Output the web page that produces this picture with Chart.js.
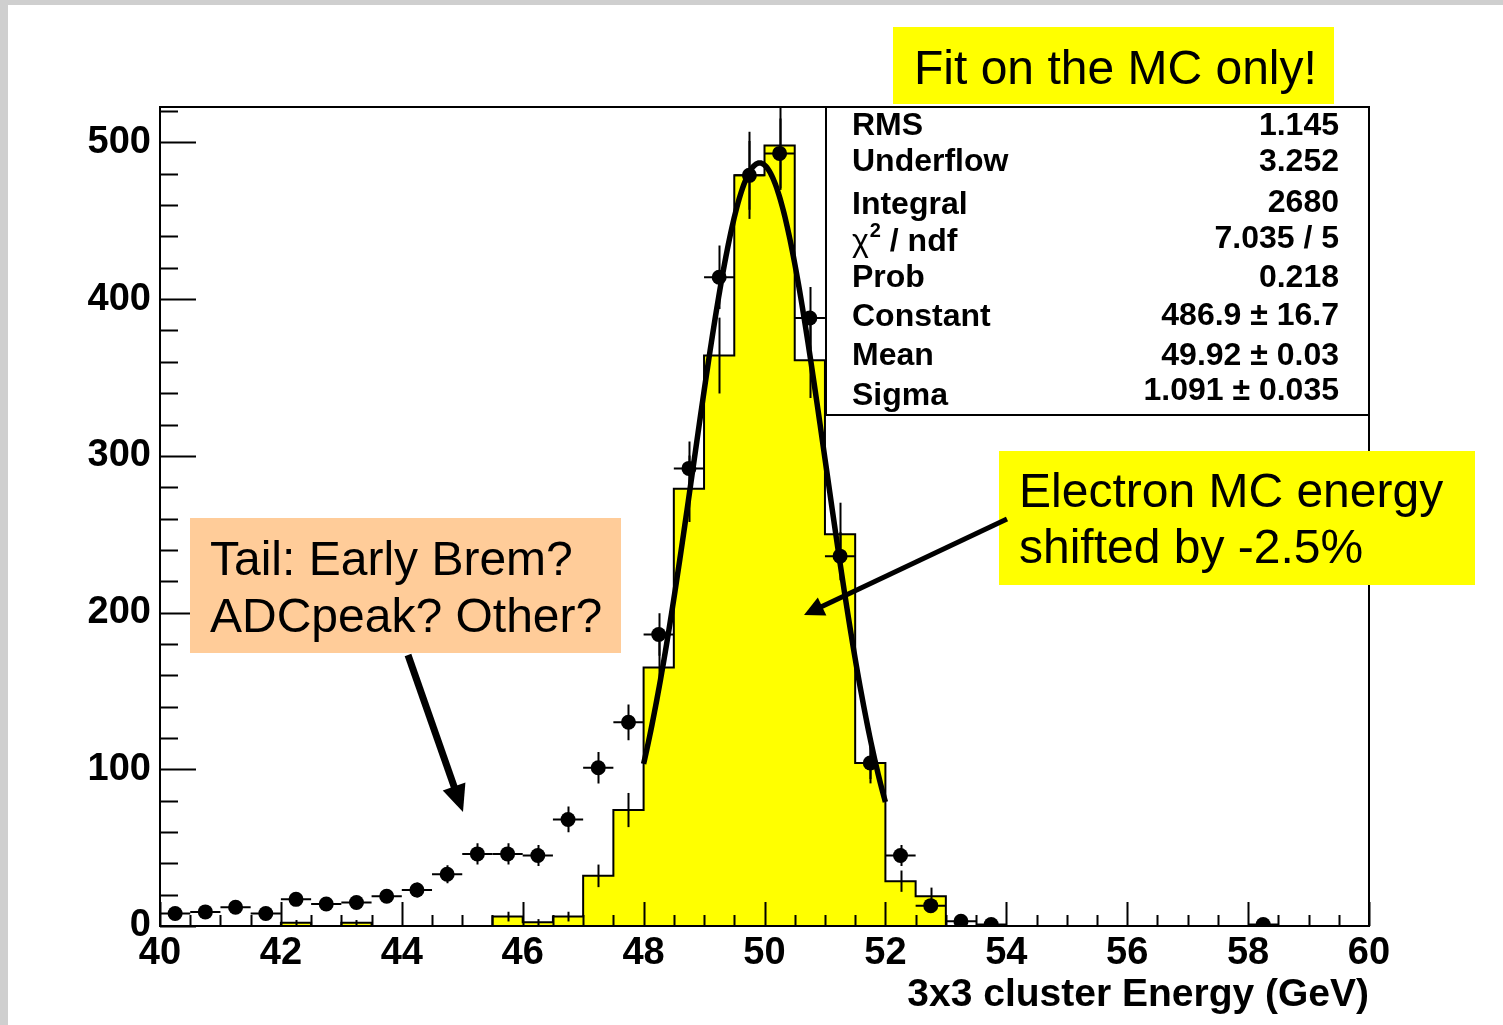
<!DOCTYPE html>
<html>
<head>
<meta charset="utf-8">
<title>3x3 cluster Energy</title>
<script src="https://cdn.jsdelivr.net/npm/chart.js@4.4.1/dist/chart.umd.min.js"></script>
<style>
  html, body { margin: 0; padding: 0; background: #ffffff; }
  canvas { display: block; }
</style>
</head>
<body>
<canvas id="chart" width="1503" height="1025"></canvas>
<script>
// ---- Histogram binning (0.5 GeV bins from 40 to 60 GeV) ----
const binEdges = [40, 40.5, 41, 41.5, 42, 42.5, 43, 43.5, 44, 44.5,
                  45, 45.5, 46, 46.5, 47, 47.5, 48, 48.5, 49, 49.5,
                  50, 50.5, 51, 51.5, 52, 52.5, 53, 53.5, 54, 54.5,
                  55, 55.5, 56, 56.5, 57, 57.5, 58, 58.5, 59, 59.5, 60];

// ---- Data: entries per bin (null = empty bin) and their errors ----
const dataCounts = [8, 9, 12, 8, 17, 14, 15, 19, 23, 33,
                    46, 46, 45, 68, 101, 130, 186, 292, 414, 479,
                    493, 388, 236, 104, 45, 13, 3, 1, null, null,
                    null, null, null, null, null, null, 1, null, null, null];
const dataErrors = [2.8, 3.0, 3.5, 2.8, 4.1, 3.7, 3.9, 4.4, 4.8, 5.7,
                    6.8, 6.8, 6.7, 8.2, 10.0, 11.4, 13.6, 17.1, 20.3, 21.9,
                    22.2, 19.7, 15.4, 10.2, 6.7, 3.6, 1.7, 1.0, 0, 0,
                    0, 0, 0, 0, 0, 0, 1.0, 0, 0, 0];

// ---- Electron MC (energy shifted by -2.5%), weighted entries and errors ----
const mcCounts = [0, 0, 0, 0, 2, 0, 2, 0, 0, 0,
                  0, 6, 2.4, 6, 32, 74, 165, 279, 364, 479,
                  498, 361, 250, 104, 28.6, 19, 0, 0, 0, 0,
                  0, 0, 0, 0, 0, 0, 0, 0, 0, 0];
const mcErrors = [0, 0, 0, 0, 1.8, 0, 1.8, 0, 0, 0,
                  0, 3.1, 2.0, 3.1, 7.2, 10.9, 16.3, 21.2, 24.2, 27.8,
                  28.3, 24.1, 20.1, 13.0, 6.8, 5.5, 0, 0, 0, 0,
                  0, 0, 0, 0, 0, 0, 0, 0, 0, 0];

// ---- Gaussian fit to the MC ----
const fitConstant = 486.9;
const fitMean = 49.92;
const fitSigma = 1.091;
const fitRange = [48, 52];

// ---- Axis tick labels ----
const xTickLabels = [40, 42, 44, 46, 48, 50, 52, 54, 56, 58, 60];
const yTickLabels = [0, 100, 200, 300, 400, 500];
const yAxisMax = 522.6;

// ---- Statistics box ----
const statsLabels = ['RMS', 'Underflow', 'Integral', 'CHI2', 'Prob', 'Constant', 'Mean', 'Sigma'];
const statsValues = ['1.145', '3.252', '2680', '7.035 / 5', '0.218',
                     fitConstant.toFixed(1) + ' \u00B1 16.7',
                     fitMean.toFixed(2) + ' \u00B1 0.03',
                     fitSigma.toFixed(3) + ' \u00B1 0.035'];

const FONT = '"Liberation Sans", Arial, Helvetica, sans-serif';

// Derived datasets
const binCenters = binEdges.slice(0, -1).map((e, i) => (e + binEdges[i + 1]) / 2);
const mcStepPoints = binEdges.map((e, i) => ({ x: e, y: i < mcCounts.length ? mcCounts[i] : 0 }));
const dataPoints = [];
binCenters.forEach((c, i) => { if (dataCounts[i] !== null) dataPoints.push({ x: c, y: dataCounts[i], err: dataErrors[i] }); });
const fitPoints = [];
for (let k = 0; k <= 200; k++) {
  const x = fitRange[0] + (fitRange[1] - fitRange[0]) * k / 200;
  const z = (x - fitMean) / fitSigma;
  fitPoints.push({ x: x, y: fitConstant * Math.exp(-0.5 * z * z) });
}

// Page background with the grey margin at the top and left
const backgroundPlugin = {
  id: 'pageBackground',
  beforeDraw(chart) {
    const ctx = chart.ctx;
    ctx.save();
    ctx.fillStyle = '#cfcfcf';
    ctx.fillRect(0, 0, chart.width, chart.height);
    ctx.fillStyle = '#ffffff';
    ctx.fillRect(8, 5, chart.width - 8, chart.height - 5);
    ctx.restore();
  }
};

// Error bars: MC error bars right after the MC histogram, data error bars before the markers
const errorBarPlugin = {
  id: 'errorBars',
  afterDatasetDraw(chart, args) {
    if (args.index !== 2) return;
    const { ctx, chartArea, scales: { x, y } } = chart;
    ctx.save();
    ctx.beginPath();
    ctx.rect(chartArea.left, chartArea.top, chartArea.right - chartArea.left, chartArea.bottom - chartArea.top);
    ctx.clip();
    ctx.strokeStyle = '#000';
    ctx.lineWidth = 2;
    binCenters.forEach((c, i) => {
      if (!mcCounts[i] || !mcErrors[i]) return;
      const px = Math.round(x.getPixelForValue(c)) + 0.5;
      ctx.beginPath();
      ctx.moveTo(px, y.getPixelForValue(mcCounts[i] - mcErrors[i]));
      ctx.lineTo(px, y.getPixelForValue(mcCounts[i] + mcErrors[i]));
      ctx.stroke();
    });
    ctx.restore();
  },
  beforeDatasetDraw(chart, args) {
    if (args.index !== 0) return;
    const { ctx, chartArea, scales: { x, y } } = chart;
    ctx.save();
    ctx.beginPath();
    ctx.rect(chartArea.left, chartArea.top, chartArea.right - chartArea.left, chartArea.bottom - chartArea.top);
    ctx.clip();
    ctx.strokeStyle = '#000';
    ctx.lineWidth = 2;
    dataPoints.forEach(p => {
      const px = Math.round(x.getPixelForValue(p.x)) + 0.5;
      const py = y.getPixelForValue(p.y);
      ctx.beginPath();
      ctx.moveTo(x.getPixelForValue(p.x - 0.25), py);
      ctx.lineTo(x.getPixelForValue(p.x + 0.25), py);
      ctx.moveTo(px, y.getPixelForValue(p.y - p.err));
      ctx.lineTo(px, y.getPixelForValue(p.y + p.err));
      ctx.stroke();
    });
    ctx.restore();
  }
};

// Frame and inward tick marks
const framePlugin = {
  id: 'frameTicks',
  afterDatasetsDraw(chart) {
    const { ctx, chartArea: a, scales: { x, y } } = chart;
    ctx.save();
    ctx.strokeStyle = '#000';
    ctx.lineWidth = 2;
    ctx.beginPath();
    // x ticks: major every 2 GeV, minor every 0.5 GeV
    for (let v = x.min; v <= x.max + 1e-9; v += 0.5) {
      const px = Math.round(x.getPixelForValue(v)) + 0.5;
      const major = xTickLabels.indexOf(Math.round(v * 10) / 10) >= 0;
      ctx.moveTo(px, a.bottom);
      ctx.lineTo(px, a.bottom - (major ? 24 : 11));
    }
    // y ticks: major every 100, minor every 20
    for (let v = 0; v <= y.max; v += 20) {
      const py = Math.round(y.getPixelForValue(v)) + 0.5;
      const major = yTickLabels.indexOf(v) >= 0;
      ctx.moveTo(a.left, py);
      ctx.lineTo(a.left + (major ? 36 : 18), py);
    }
    ctx.stroke();
    ctx.lineWidth = 2;
    ctx.strokeRect(a.left, a.top, a.right - a.left, a.bottom - a.top);
    ctx.restore();
  }
};

function drawArrow(ctx, x0, y0, x1, y1, width, headLen, headHalf) {
  const dx = x1 - x0, dy = y1 - y0;
  const len = Math.sqrt(dx * dx + dy * dy);
  const ux = dx / len, uy = dy / len;
  const bx = x1 - ux * headLen, by = y1 - uy * headLen;
  ctx.save();
  ctx.strokeStyle = '#000';
  ctx.fillStyle = '#000';
  ctx.lineWidth = width;
  ctx.lineCap = 'butt';
  ctx.beginPath();
  ctx.moveTo(x0, y0);
  ctx.lineTo(bx + ux * 2, by + uy * 2);
  ctx.stroke();
  ctx.beginPath();
  ctx.moveTo(x1, y1);
  ctx.lineTo(bx - uy * headHalf, by + ux * headHalf);
  ctx.lineTo(bx + uy * headHalf, by - ux * headHalf);
  ctx.closePath();
  ctx.fill();
  ctx.restore();
}

// Statistics box and slide annotations
const annotationPlugin = {
  id: 'annotations',
  afterDraw(chart) {
    const ctx = chart.ctx;
    const a = chart.chartArea;
    ctx.save();

    // Stats box
    const bx = 826, by = a.top, bw = a.right - 826, bh = 308;
    ctx.fillStyle = '#fff';
    ctx.fillRect(bx, by, bw, bh);
    ctx.strokeStyle = '#000';
    ctx.lineWidth = 2;
    ctx.strokeRect(bx, by, bw, bh);
    const labelBase = [135, 171, 214, 251, 287, 326, 365, 405];
    const valueBase = [135, 171, 212, 248, 287, 325, 365, 400];
    ctx.fillStyle = '#000';
    ctx.textBaseline = 'alphabetic';
    statsLabels.forEach((lab, i) => {
      ctx.textAlign = 'left';
      if (lab === 'CHI2') {
        ctx.font = '32px ' + FONT;
        ctx.fillText('\u03C7', 852, labelBase[i]);
        let w = ctx.measureText('\u03C7').width;
        ctx.font = 'bold 20px ' + FONT;
        ctx.fillText('2', 852 + w + 1, labelBase[i] - 14);
        w += ctx.measureText('2').width + 1;
        ctx.font = 'bold 32px ' + FONT;
        ctx.fillText(' / ndf', 852 + w, labelBase[i]);
      } else {
        ctx.font = 'bold 32px ' + FONT;
        ctx.fillText(lab, 852, labelBase[i]);
      }
      ctx.font = 'bold 32px ' + FONT;
      ctx.textAlign = 'right';
      ctx.fillText(statsValues[i], 1339, valueBase[i]);
    });

    // "Fit on the MC only!" label
    ctx.fillStyle = '#ffff00';
    ctx.fillRect(893, 27, 441, 77);
    ctx.fillStyle = '#000';
    ctx.textAlign = 'left';
    ctx.font = '48px ' + FONT;
    ctx.fillText('Fit on the MC only!', 914, 84);

    // Tail question box
    ctx.fillStyle = '#ffcc99';
    ctx.fillRect(190, 518, 431, 135);
    ctx.fillStyle = '#000';
    ctx.font = '48px ' + FONT;
    ctx.fillText('Tail: Early Brem?', 210, 575);
    ctx.fillText('ADCpeak? Other?', 210, 632);

    // Electron MC shift box
    ctx.fillStyle = '#ffff00';
    ctx.fillRect(999, 451, 476, 134);
    ctx.fillStyle = '#000';
    ctx.font = '48px ' + FONT;
    ctx.fillText('Electron MC energy', 1019, 507);
    ctx.fillText('shifted by -2.5%', 1019, 563);

    ctx.restore();

    drawArrow(ctx, 408, 655, 463, 812, 7, 27, 12);
    drawArrow(ctx, 1007, 519, 804, 615, 5, 20, 10);
  }
};

const tickFont = { family: FONT, size: 38, weight: 'bold' };
const titleFont = { family: FONT, size: 39, weight: 'bold' };

new Chart(document.getElementById('chart'), {
  type: 'line',
  data: {
    datasets: [
      {
        label: 'Data',
        data: dataPoints,
        showLine: false,
        pointRadius: 7.5,
        pointHoverRadius: 7.5,
        pointBackgroundColor: '#000',
        pointBorderWidth: 0,
        order: 0
      },
      {
        label: 'Gaussian fit',
        data: fitPoints,
        borderColor: '#000',
        borderWidth: 5.5,
        pointRadius: 0,
        tension: 0,
        fill: false,
        order: 1
      },
      {
        label: 'Electron MC',
        data: mcStepPoints,
        stepped: true,
        borderColor: '#000',
        borderWidth: 2,
        backgroundColor: '#ffff00',
        fill: 'origin',
        pointRadius: 0,
        tension: 0,
        order: 2
      }
    ]
  },
  options: {
    responsive: false,
    animation: false,
    devicePixelRatio: 1,
    events: [],
    layout: { padding: { top: 107, right: 134, left: 0, bottom: 0 } },
    plugins: { legend: { display: false }, tooltip: { enabled: false } },
    scales: {
      x: {
        type: 'linear',
        min: 40,
        max: 60,
        afterBuildTicks: s => { s.ticks = xTickLabels.map(v => ({ value: v })); },
        afterFit: s => { s.height = 99; },
        ticks: { font: tickFont, color: '#000', padding: 5, maxRotation: 0, autoSkip: false },
        grid: { display: false, drawTicks: false },
        border: { display: false },
        title: {
          display: true,
          text: '3x3 cluster Energy (GeV)',
          align: 'end',
          color: '#000',
          font: titleFont,
          padding: { top: 0, bottom: 6 }
        }
      },
      y: {
        type: 'linear',
        min: 0,
        max: yAxisMax,
        afterBuildTicks: s => { s.ticks = yTickLabels.map(v => ({ value: v })); },
        afterFit: s => { s.width = 160; },
        ticks: { font: tickFont, color: '#000', padding: 9 },
        grid: { display: false, drawTicks: false },
        border: { display: false }
      }
    }
  },
  plugins: [backgroundPlugin, errorBarPlugin, framePlugin, annotationPlugin]
});
</script>
</body>
</html>
